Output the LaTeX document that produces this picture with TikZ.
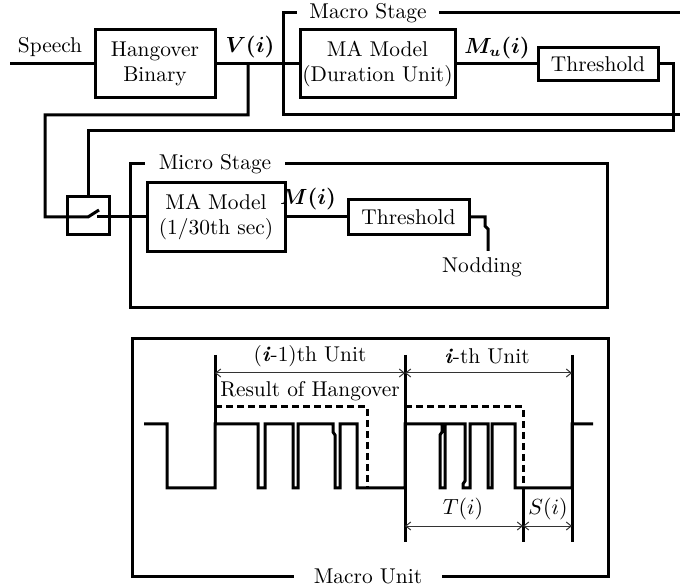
\documentclass[tikz,border=0pt]{standalone}
\usepackage{amsmath,amssymb}
\usepackage{xcolor}
\usepackage{tikz}
\usetikzlibrary{arrows.meta}

\tikzset{
  blk/.style={draw, line width=1.5pt, align=center, inner sep=0pt},
  wire/.style={line width=1.5pt},
  frame/.style={line width=1.5pt},
  tag/.style={fill=white, inner xsep=5pt, inner ysep=1pt},
  sig/.style={line width=1.5pt},
  hang/.style={line width=1.5pt, dash pattern=on 3.5pt off 2pt},
  dimline/.style={line width=0.5pt, black!80,
    {Straight Barb[length=2.5pt,width=4pt]}-{Straight Barb[length=2.5pt,width=4pt]}},
}

\begin{document}
\begin{tikzpicture}[x=0.5pt, y=-0.5pt, font=\fontsize{10.7}{12.5}\selectfont]
  \useasboundingbox (0,0) rectangle (680,587);

  % Macro stage
  \draw[frame] (680,13) -| (283,115) -- (680,115);
  \node[tag, inner xsep=6pt] (macrotag) at (368,13) {Macro Stage};
  \node[blk, minimum width=60pt, minimum height=34pt] (hang) at (155,64) {Hangover\\Binary};
  \node[blk, minimum width=77.5pt, minimum height=34pt] (mmaU) at (377.5,64) {MA Model\\(Duration Unit)};
  \node[blk, minimum width=60pt, minimum height=16.5pt] (thrU) at (598,64) {Threshold};

  \coordinate (spin) at (10,64);
  \node (speech) at (50,47) {Speech};
  \node (vlbl) at (250,47) {$\boldsymbol{V(i)}$};
  \node (mulbl) at (497,48) {$\boldsymbol{M_u(i)}$};

  \draw[wire] (spin) -- (hang.west);
  \draw[wire] (hang.east) -- (mmaU.west);
  \draw[wire] (mmaU.east) -- (thrU.west);

  % Micro stage
  \draw[frame] (130,164) rectangle (607,308);
  \node[tag, inner xsep=7pt] (microtag) at (215,164) {Micro Stage};
  \node[blk, minimum width=21pt, minimum height=19pt] (sw) at (88,216) {};
  \node[blk, minimum width=69pt, minimum height=34.5pt] (mmaM) at (216,217) {MA Model\\(1/30th sec)};
  \node[blk, minimum width=60.5pt, minimum height=17.5pt] (thrM) at (408.5,217) {Threshold};
  \node (mlbl) at (308,199) {$\boldsymbol{M(i)}$};
  \node (nod) at (482,267) {Nodding};

  % Switch and wiring
  \coordinate (vtap) at (248,64);
  \coordinate (tapL) at (45,115);
  \coordinate (fbR) at (673,131);
  \coordinate (swpiv) at (88,217);
  \coordinate (swtip) at (99,210);
  \coordinate (swcon) at (97,217);
  \coordinate (nodin) at (488,251);

  \draw[wire] (vtap) |- (tapL) |- (swpiv) -- (swtip);
  \draw[wire] (swcon) -- (mmaM.west);
  \draw[wire] (thrU.east) -| (fbR) -| (sw.north);
  \draw[wire] (mmaM.east) -- (thrM.west);
  \draw[wire] (thrM.east) -| (485,226) -- (488,229) -- (nodin);

  % Macro unit
  \draw[frame] (132,339) rectangle (608,576);
  \node[tag, inner xsep=10pt] (unittag) at (368,576) {Macro Unit};

  \coordinate (b0) at (215,355);
  \coordinate (b1) at (405,355);
  \coordinate (b2) at (572,355);
  \coordinate (b3) at (523,488);

  \draw[wire] (b0) -- (215,424);
  \draw[wire] (b1) -- (405,542);
  \draw[wire] (b2) -- (572,542);
  \draw[wire] (b3) -- (523,542);

  % waveform
  \draw[sig] (144,424) -| (167,488) -| (215,424) -| (258,488) -| (265,424)
    -| (293,488) -| (298,424) -- (333,424) -- (333,432) -- (335,435) -- (335,488)
    -| (340,424) -| (357,488) -| (405,424) -- (442,424) -- (442,432) -- (440,435)
    -- (440,488) -| (445,424) -| (465,481) -- (463,484) -- (463,488) -| (470,424)
    -| (488,488) -| (492,424) -| (515,488) -| (572,424) -- (593,424);

  % hangover result
  \draw[hang] (215,407) -| (367,488);
  \draw[hang] (405,407) -| (523,488);

  % unit lengths
  \draw[dimline] (215,373) -- (405,373);
  \draw[dimline] (405,373) -- (572,373);
  \draw[dimline] (405,526) -- (523,526);
  \draw[dimline] (523,526) -- (572,526);
  \node (prevlbl) at (310,356) {(\textbf{\textit{i}}-1)th Unit};
  \node (curlbl) at (487,356) {\textbf{\textit{i}}-th Unit};
  \node (hanglbl) at (310,391) {Result of Hangover};
  \node (tlbl) at (463,509) {$T(i)$};
  \node (slbl) at (548,509) {$S(i)$};
\end{tikzpicture}
\end{document}
